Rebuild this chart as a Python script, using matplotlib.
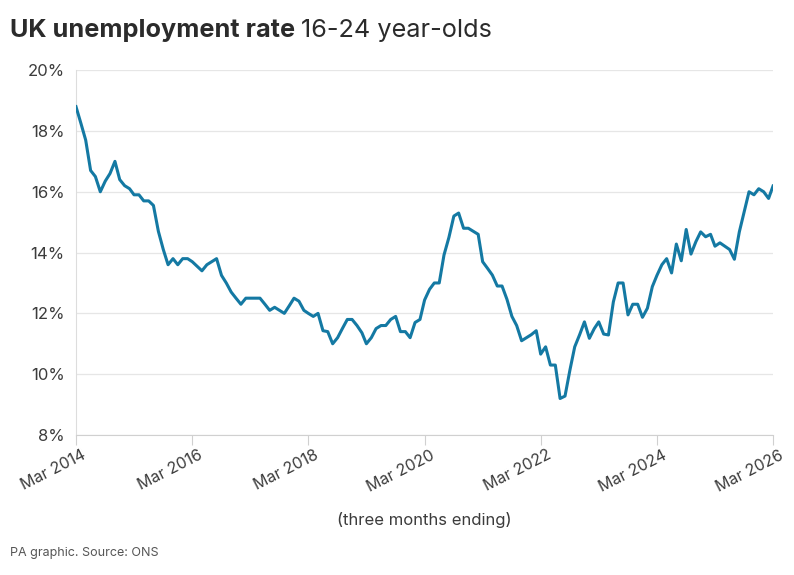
import matplotlib
matplotlib.use("Agg")
import matplotlib.pyplot as plt
import matplotlib.dates as mdates
import matplotlib.transforms as mtransforms
import pandas as pd
import numpy as np

# monthly 16-24 unemployment rate (%), three months ending Mar 2014 .. Mar 2026
months = pd.date_range("2014-03-01", periods=145, freq="MS")
rate = [
    18.8, 18.25, 17.7, 16.7, 16.5, 16.0, 16.35, 16.6, 17.0, 16.4, 16.2, 16.1,
    15.9, 15.9, 15.7, 15.7, 15.55, 14.7, 14.1, 13.6, 13.8, 13.6, 13.8, 13.8,
    13.7, 13.55, 13.4, 13.6, 13.7, 13.8, 13.25, 13.0, 12.7, 12.5, 12.3, 12.5,
    12.5, 12.5, 12.5, 12.3, 12.1, 12.2, 12.1, 12.0, 12.25, 12.5, 12.4, 12.1,
    12.0, 11.9, 12.0, 11.43, 11.4, 11.0, 11.2, 11.5, 11.8, 11.8, 11.6, 11.36,
    11.0, 11.2, 11.5, 11.6, 11.6, 11.8, 11.9, 11.4, 11.4, 11.2, 11.7, 11.8,
    12.44, 12.79, 13.0, 13.0, 13.92, 14.5, 15.2, 15.3, 14.8, 14.8, 14.7, 14.6,
    13.7, 13.48, 13.26, 12.9, 12.9, 12.46, 11.9, 11.6, 11.1, 11.2, 11.3, 11.43,
    10.66, 10.9, 10.3, 10.3, 9.2, 9.28, 10.14, 10.9, 11.3, 11.72, 11.18, 11.5,
    11.72, 11.32, 11.29, 12.38, 13.0, 13.0, 11.95, 12.3, 12.3, 11.87, 12.17, 12.88,
    13.25, 13.6, 13.8, 13.33, 14.28, 13.73, 14.76, 13.95, 14.36, 14.68, 14.52, 14.6,
    14.21, 14.32, 14.21, 14.1, 13.78, 14.68, 15.35, 16.0, 15.9, 16.1, 16.0, 15.78,
    16.19,
]
yticks = [8, 10, 12, 14, 16, 18, 20]
tick_years = [2014, 2016, 2018, 2020, 2022, 2024, 2026]

plt.rcParams["font.family"] = ["Inter", "DejaVu Sans"]
txt = "#3c3c3c"

fig = plt.figure(figsize=(7.94, 5.75), dpi=100)
ax = fig.add_axes([0.0957, 0.2435, 0.8779, 0.6345])

ax.plot(months, rate, color="#1479a3", lw=2.2, zorder=3)

ax.set_ylim(8, 20)
ax.set_yticks(yticks)
ax.set_yticklabels([f"{v}%" for v in yticks])
ax.set_xlim(months[0], months[-1])
ax.set_xticks([pd.Timestamp(f"{y}-03-01") for y in tick_years])
ax.xaxis.set_major_formatter(mdates.DateFormatter("%b %Y"))

ax.grid(axis="y", color="#e6e6e6", lw=0.9)
ax.set_axisbelow(True)
for s in ["top", "right"]:
    ax.spines[s].set_visible(False)
ax.spines["left"].set_color("#dddddd")
ax.spines["bottom"].set_color("#d0d0d0")
ax.tick_params(axis="y", length=0, pad=8, labelsize=12, labelcolor=txt)
ax.tick_params(axis="x", length=7, color="#d0d0d0", pad=2, labelsize=11.5, labelcolor=txt)
shift = mtransforms.ScaledTranslation(9 / 72, 0, fig.dpi_scale_trans)
for lab in ax.get_xticklabels():
    lab.set_rotation(27)
    lab.set_ha("right")
    lab.set_transform(lab.get_transform() + shift)

# title: bold part + regular part
fig.canvas.draw()
r = fig.canvas.get_renderer()
t1 = fig.text(0.0126, 0.947, "UK unemployment rate", fontsize=18.2, fontweight="bold",
              color="#2b2b2b", va="center")
bb = t1.get_window_extent(renderer=r)
fig.text(bb.x1 / fig.bbox.width + 0.007, 0.947, "16-24 year-olds", fontsize=18.2,
         color="#2b2b2b", va="center")

fig.text(0.534, 0.095, "(three months ending)", fontsize=12, color=txt, ha="center", va="center")
fig.text(0.0126, 0.038, "PA graphic. Source: ONS", fontsize=9, color="#555555", va="center")

fig.savefig("out.png", dpi=100)
